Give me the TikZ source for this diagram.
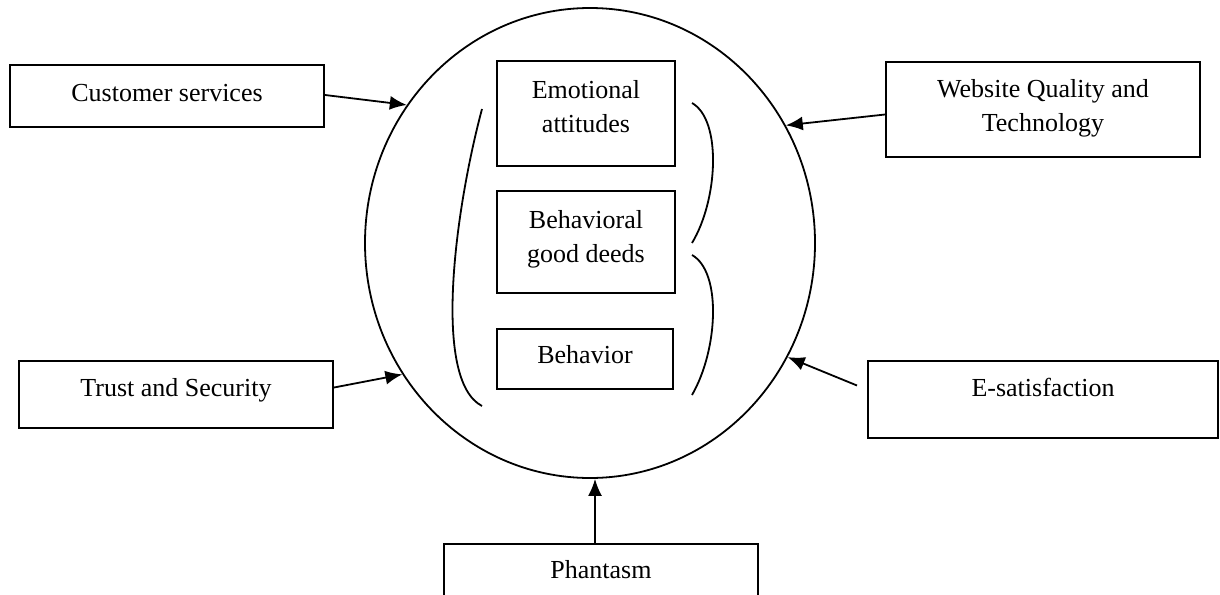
\documentclass[tikz,border=0pt]{standalone}
\usepackage{fontspec}
\setmainfont{Liberation Serif}
\usetikzlibrary{shapes.geometric,arrows.meta}
\begin{document}
\begin{tikzpicture}[x=0.5pt,y=-0.5pt,
  box/.style={draw, line width=1pt, inner sep=0pt},
  lbl/.style={font=\fontsize{13}{17}\selectfont, align=center, inner sep=0pt, anchor=base},
  arr/.style={line width=0.9pt, -{Latex[length=8.5pt,width=7pt]}},
  curl/.style={line width=0.9pt}]
\clip (0,0) rectangle (1220,594);
\fill[white] (0,0) rectangle (1220,594);
% central ellipse
\node[draw, ellipse, line width=0.9pt, minimum width=225pt, minimum height=235pt, inner sep=0pt] (circ) at (590,243) {};
% inner boxes
\node[box, minimum width=89pt, minimum height=52.5pt] (emo) at (586,113.5) {};
\node[box, minimum width=89pt, minimum height=51pt] (bgd) at (586,242) {};
\node[box, minimum width=88pt, minimum height=30pt] (beh) at (585,359) {};
\node[lbl] (emot) at (586,132) {Emotional\\attitudes};
\node[lbl] (bgdt) at (586,262) {Behavioral\\good deeds};
\node[lbl] (beht) at (585,363) {Behavior};
% brackets
\draw[curl] (482,109) .. controls (455,210) and (432,380) .. (482,406);
\draw[curl] (692,103) .. controls (722,120) and (718,200) .. (692,243);
\draw[curl] (692,255) .. controls (722,272) and (718,350) .. (692,395);
% outer boxes
\node[box, minimum width=157pt, minimum height=31pt] (cs) at (167,96) {};
\node[box, minimum width=157pt, minimum height=47.5pt] (web) at (1043,109.5) {};
\node[box, minimum width=157pt, minimum height=33.5pt] (trust) at (176,394.5) {};
\node[box, minimum width=175pt, minimum height=38.5pt] (esat) at (1043,399.5) {};
\node[box, minimum width=157pt, minimum height=48pt] (ph) at (601,592) {};
\node[lbl] (cst) at (167,101) {Customer services};
\node[lbl] (webt) at (1043,131) {Website Quality and\\Technology};
\node[lbl] (trustt) at (176,396) {Trust and Security};
\node[lbl] (esatt) at (1043,396) {E-satisfaction};
\node[lbl] (pht) at (601,578) {Phantasm};
% arrows
\draw[arr] ([yshift=0.5pt]cs.east) -- (circ.143);
\draw[arr] ([yshift=-2.5pt]web.west) -- (circ.31);
\draw[arr] ([yshift=3.5pt]trust.east) -- (circ.215);
\draw[arr] ([xshift=-5pt,yshift=7pt]esat.west) -- (circ.330);
\draw[arr] ([xshift=-3pt]ph.north) -- ([xshift=-3pt]ph.north |- circ.south);
\end{tikzpicture}
\end{document}
